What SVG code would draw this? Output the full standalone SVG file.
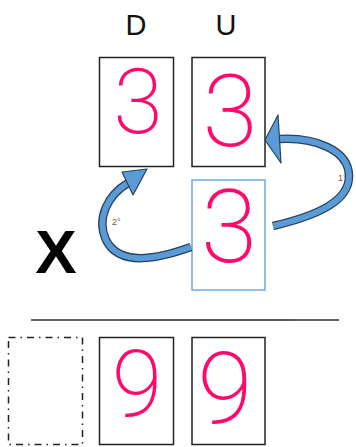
<svg xmlns="http://www.w3.org/2000/svg" width="356" height="447" viewBox="0 0 356 447">
<style>
.box{fill:#fff;stroke:#222;stroke-width:1.5}
.blue{fill:#fff;stroke:#6fa8dc;stroke-width:1.5}
.dash{fill:none;stroke:#222;stroke-width:1.5;stroke-dasharray:7 5 1.5 5}
.dig{font-family:Roboto,"Liberation Sans",sans-serif;font-weight:200;fill:#ff0a6c;text-anchor:middle}
.hdr{font-family:"Liberation Sans",Arial,sans-serif;font-size:29px;fill:#111;text-anchor:middle}
.lbl{font-family:"Liberation Sans",Arial,sans-serif;font-size:9px;fill:#6b5a40}
.shO{fill:none;stroke:#27425e;stroke-width:8.5}
.shI{fill:none;stroke:#5b9bd5;stroke-width:6}
.head{fill:#5b9bd5;stroke:#27425e;stroke-width:1.2;stroke-linejoin:round}
</style>
<g id="header-D"><text class="hdr" x="136" y="35">D</text></g>
<g id="header-U"><text class="hdr" x="226" y="35">U</text></g>
<g id="box-D3"><rect class="box" x="99.5" y="57.5" width="74" height="109"/><text class="dig" x="138" y="133" font-size="90">3</text></g>
<g id="box-U3"><rect class="box" x="192" y="57.5" width="73" height="109"/><text class="dig" x="230" y="146" font-size="100">3</text></g>
<g id="box-M3"><rect class="blue" x="192" y="180" width="73" height="110"/><text class="dig" x="229" y="262" font-size="102">3</text></g>
<g id="times"><text x="56" y="273" font-family="'Liberation Sans',Arial,sans-serif" font-weight="bold" font-size="62" text-anchor="middle" fill="#000">X</text></g>
<g id="connectors">
<path class="shO" d="M273,226 C320,215 350,200 349,175 C348,150 315,137 279,139"/>
<path class="shI" d="M273,226 C320,215 350,200 349,175 C348,150 315,137 279,139"/>
<polygon class="head" points="265,140 278,115 281,163"/>
<path class="shO" d="M191,247 C160,258 120,268 106,240 C96,218 108,195 128,183"/>
<path class="shI" d="M191,247 C160,258 120,268 106,240 C96,218 108,195 128,183"/>
<polygon class="head" points="147,169 122,172 133,195"/>
<text class="lbl" x="338" y="181">1°</text>
<text class="lbl" x="112" y="225">2°</text>
</g>
<g id="line">
<line x1="31" y1="320" x2="119" y2="320" stroke="#666" stroke-width="1.8"/>
<line x1="119" y1="320" x2="295" y2="320" stroke="#222" stroke-width="1.3"/>
<line x1="295" y1="320" x2="339" y2="320" stroke="#666" stroke-width="1.8"/>
</g>
<g id="box-empty"><rect class="dash" x="8.5" y="337.5" width="74" height="107"/></g>
<g id="box-D9"><rect class="box" x="99.5" y="337.5" width="74" height="107"/><text class="dig" x="137" y="416" font-size="92">9</text></g>
<g id="box-U9"><rect class="box" x="192" y="337.5" width="73" height="107"/><text class="dig" x="225" y="423" font-size="100">9</text></g>
</svg>
